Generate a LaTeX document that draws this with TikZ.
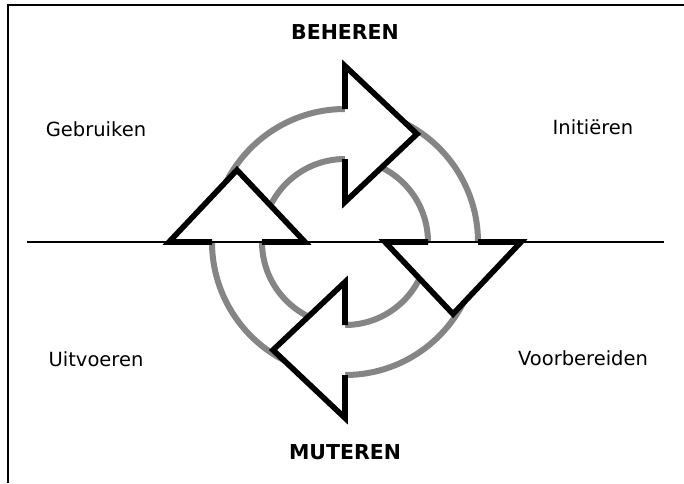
\documentclass[tikz,border=0pt]{standalone}
\usepackage{fontspec}
\setmainfont{DejaVu Sans}
\definecolor{ringgray}{HTML}{858585}
\begin{document}
\begin{tikzpicture}[x=1pt,y=-1pt,
  ring/.style={draw=ringgray, line width=6pt},
  headfill/.style={fill=white},
  headline/.style={draw=black, line width=5.6pt, line join=miter, line cap=butt},
  axisline/.style={draw=black, line width=1.2pt},
  framestyle/.style={draw=black, line width=2pt},
  lbl/.style={font=\fontsize{19.5}{22}\selectfont, inner sep=0pt},
  ttl/.style={font=\bfseries\fontsize{20.5}{24}\selectfont, inner sep=0pt}]
\useasboundingbox (0,0) rectangle (684,483);
\fill[white] (0,0) rectangle (684,483);
% frame
\draw[framestyle] (7.5,483) -- (7.5,4.5) -- (684,4.5);
% rings
\draw[ring] (345,242) circle (133pt);
\draw[ring] (345,242) circle (83pt);
% arrow heads (white fill)
\fill[headfill] (345,66) -- (417,134) -- (345,202) -- cycle;
\fill[headfill] (521,242) -- (453,314) -- (385,242) -- cycle;
\fill[headfill] (345,418) -- (273,350) -- (345,282) -- cycle;
\fill[headfill] (169,242) -- (237,170) -- (305,242) -- cycle;
% horizontal axis
\draw[axisline] (27,242) -- (664,242);
% arrow head outlines
\draw[headline] (345,109) -- (345,66) -- (417,134) -- (345,202) -- (345,159);
\draw[headline] (478,242) -- (521,242) -- (453,314) -- (385,242) -- (428,242);
\draw[headline] (345,375) -- (345,418) -- (273,350) -- (345,282) -- (345,325);
\draw[headline] (212,242) -- (169,242) -- (237,170) -- (305,242) -- (262,242);
% labels
\node[ttl] (beheren) at (345,32) {BEHEREN};
\node[ttl] (muteren) at (345,452) {MUTEREN};
\node[lbl] (gebruiken) at (96,129) {Gebruiken};
\node[lbl] (initieren) at (593,127) {Initiëren};
\node[lbl] (uitvoeren) at (96,359) {Uitvoeren};
\node[lbl] (voorbereiden) at (583,358) {Voorbereiden};
\end{tikzpicture}
\end{document}
